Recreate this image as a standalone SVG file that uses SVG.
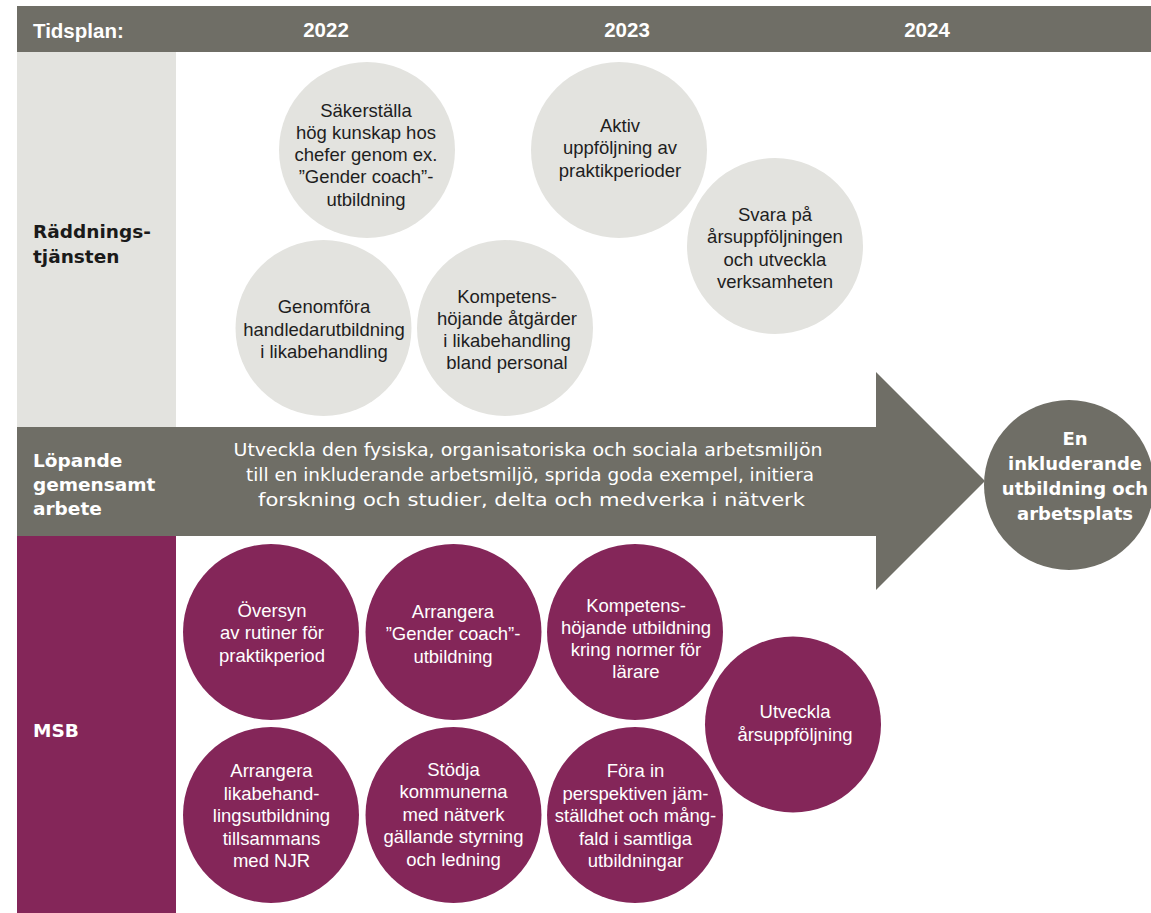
<svg xmlns="http://www.w3.org/2000/svg" width="1151" height="913" viewBox="0 0 1151 913">
<style>
.hdr{font-family:"Liberation Sans",Arial,sans-serif;font-weight:bold;font-size:20.5px;fill:#ffffff}
.lbl{font-family:"DejaVu Sans",sans-serif;font-weight:bold;font-size:18.5px}
.lbl-d{fill:#1a1a1a}
.lbl-w{fill:#ffffff}
.ct{font-family:"Liberation Sans",Arial,sans-serif;font-size:18.5px;text-anchor:middle}
.ct-d{fill:#1e1e1e}
.ct-w{fill:#ffffff}
.band-t{font-family:"DejaVu Sans",sans-serif;font-size:18px;fill:#ffffff;text-anchor:middle}
.goal-t{font-family:"DejaVu Sans",sans-serif;font-weight:bold;font-size:18px;fill:#ffffff;text-anchor:middle}
.gc{fill:#e3e3df}
.pc{fill:#842659}
.dg{fill:#6f6e66}
</style>
<rect width="1151" height="913" fill="#ffffff"/>

<g id="header">
  <rect class="dg" x="17" y="6" width="1134" height="46"/>
  <text class="hdr" x="33" y="37.5">Tidsplan:</text>
  <text class="hdr" x="326" y="37" text-anchor="middle">2022</text>
  <text class="hdr" x="627" y="37" text-anchor="middle">2023</text>
  <text class="hdr" x="927" y="37" text-anchor="middle">2024</text>
</g>

<g id="row-raddningstjansten">
  <rect class="gc" x="17" y="52" width="159" height="375"/>
  <text class="lbl lbl-d" x="33" y="238">Räddnings-</text>
  <text class="lbl lbl-d" x="33" y="263">tjänsten</text>
</g>

<g id="row-msb">
  <rect class="pc" x="17" y="536" width="159" height="377"/>
  <text class="lbl lbl-w" x="33" y="737">MSB</text>
</g>

<g id="band-lopande">
  <polygon class="dg" points="17,427 876,427 876,372 985,481 876,590 876,536 17,536"/>
  <text class="lbl lbl-w" x="33" y="466.5">Löpande</text>
  <text class="lbl lbl-w" x="33" y="490.5">gemensamt</text>
  <text class="lbl lbl-w" x="33" y="514.5">arbete</text>
  <text class="band-t" x="528" y="456" textLength="589" lengthAdjust="spacingAndGlyphs">Utveckla den fysiska, organisatoriska och sociala arbetsmiljön</text>
  <text class="band-t" x="530" y="481" textLength="568" lengthAdjust="spacingAndGlyphs">till en inkluderande arbetsmiljö, sprida goda exempel, initiera</text>
  <text class="band-t" x="531.5" y="506" textLength="547" lengthAdjust="spacingAndGlyphs">forskning och studier, delta och medverka i nätverk</text>
</g>

<g id="goal">
  <circle class="dg" cx="1069" cy="485" r="85"/>
  <text class="goal-t" x="1075" y="445">En</text>
  <text class="goal-t" x="1075" y="470">inkluderande</text>
  <text class="goal-t" x="1075" y="495">utbildning och</text>
  <text class="goal-t" x="1075" y="520">arbetsplats</text>
</g>

<g id="r-sakerstalla">
  <circle class="gc" cx="367" cy="150" r="88"/>
  <text class="ct ct-d" x="366" y="116.5">Säkerställa</text>
  <text class="ct ct-d" x="366" y="138.8">hög kunskap hos</text>
  <text class="ct ct-d" x="366" y="161.1">chefer genom ex.</text>
  <text class="ct ct-d" x="366" y="183.4">”Gender coach”-</text>
  <text class="ct ct-d" x="366" y="205.7">utbildning</text>
</g>

<g id="r-aktiv">
  <circle class="gc" cx="619" cy="150" r="88"/>
  <text class="ct ct-d" x="620" y="131.5">Aktiv</text>
  <text class="ct ct-d" x="620" y="154">uppföljning av</text>
  <text class="ct ct-d" x="620" y="176.5">praktikperioder</text>
</g>

<g id="r-svara">
  <circle class="gc" cx="775" cy="246" r="88"/>
  <text class="ct ct-d" x="775" y="221">Svara på</text>
  <text class="ct ct-d" x="775" y="243.3">årsuppföljningen</text>
  <text class="ct ct-d" x="775" y="265.8">och utveckla</text>
  <text class="ct ct-d" x="775" y="288.2">verksamheten</text>
</g>

<g id="r-genomfora">
  <circle class="gc" cx="323.5" cy="328" r="88"/>
  <text class="ct ct-d" x="324" y="313">Genomföra</text>
  <text class="ct ct-d" x="324" y="335.6">handledarutbildning</text>
  <text class="ct ct-d" x="324" y="358">i likabehandling</text>
</g>

<g id="r-kompetens">
  <circle class="gc" cx="505" cy="328" r="88"/>
  <text class="ct ct-d" x="507" y="302.5">Kompetens-</text>
  <text class="ct ct-d" x="507" y="324.8">höjande åtgärder</text>
  <text class="ct ct-d" x="507" y="347">i likabehandling</text>
  <text class="ct ct-d" x="507" y="369">bland personal</text>
</g>

<g id="m-oversyn">
  <circle class="pc" cx="271" cy="632" r="88"/>
  <text class="ct ct-w" x="272" y="616.5">Översyn</text>
  <text class="ct ct-w" x="272" y="639">av rutiner för</text>
  <text class="ct ct-w" x="272" y="661.5">praktikperiod</text>
</g>

<g id="m-arrangera-gender">
  <circle class="pc" cx="453.5" cy="632" r="88"/>
  <text class="ct ct-w" x="453" y="617.5">Arrangera</text>
  <text class="ct ct-w" x="453" y="640">”Gender coach”-</text>
  <text class="ct ct-w" x="453" y="662.5">utbildning</text>
</g>

<g id="m-kompetens">
  <circle class="pc" cx="635" cy="632" r="88"/>
  <text class="ct ct-w" x="636" y="611.5">Kompetens-</text>
  <text class="ct ct-w" x="636" y="633.8">höjande utbildning</text>
  <text class="ct ct-w" x="636" y="656">kring normer för</text>
  <text class="ct ct-w" x="636" y="678">lärare</text>
</g>

<g id="m-utveckla">
  <circle class="pc" cx="793" cy="724.5" r="88"/>
  <text class="ct ct-w" x="795" y="718">Utveckla</text>
  <text class="ct ct-w" x="795" y="740.8">årsuppföljning</text>
</g>

<g id="m-arrangera-likabehandling">
  <circle class="pc" cx="271" cy="815" r="88"/>
  <text class="ct ct-w" x="271.5" y="777">Arrangera</text>
  <text class="ct ct-w" x="271.5" y="799.6">likabehand-</text>
  <text class="ct ct-w" x="271.5" y="822.2">lingsutbildning</text>
  <text class="ct ct-w" x="271.5" y="844.8">tillsammans</text>
  <text class="ct ct-w" x="271.5" y="867.2">med NJR</text>
</g>

<g id="m-stodja">
  <circle class="pc" cx="453.5" cy="815" r="88"/>
  <text class="ct ct-w" x="453.5" y="776">Stödja</text>
  <text class="ct ct-w" x="453.5" y="798.3">kommunerna</text>
  <text class="ct ct-w" x="453.5" y="820.8">med nätverk</text>
  <text class="ct ct-w" x="453.5" y="843.2">gällande styrning</text>
  <text class="ct ct-w" x="453.5" y="866.3">och ledning</text>
</g>

<g id="m-fora-in">
  <circle class="pc" cx="635" cy="815" r="88"/>
  <text class="ct ct-w" x="635.5" y="777">Föra in</text>
  <text class="ct ct-w" x="635.5" y="799.6">perspektiven jäm-</text>
  <text class="ct ct-w" x="635.5" y="822.2">ställdhet och mång-</text>
  <text class="ct ct-w" x="635.5" y="844.8">fald i samtliga</text>
  <text class="ct ct-w" x="635.5" y="867.2">utbildningar</text>
</g>
</svg>
